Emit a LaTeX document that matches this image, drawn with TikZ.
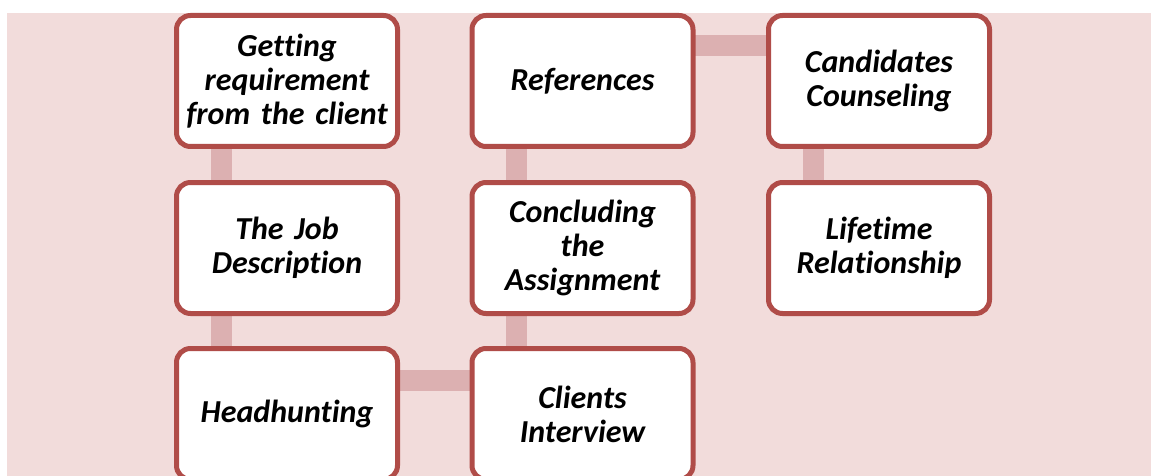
\documentclass[tikz,border=0pt]{standalone}
\usepackage{fontspec}
\setmainfont{Carlito}[Ligatures={NoCommon},WordSpace=0.8]
\usetikzlibrary{backgrounds}
\definecolor{bgpink}{RGB}{242,220,219}
\definecolor{boxred}{RGB}{176,76,72}
\definecolor{connpink}{RGB}{220,176,177}
\tikzset{
  stepbox/.style={draw=boxred, line width=5pt, fill=white, rounded corners=14pt,
    minimum width=221pt, minimum height=131pt, text width=218pt, align=center,
    font=\fontsize{32}{34}\selectfont\bfseries\itshape, inner sep=0pt},
  conn/.style={draw=connpink, line width=21pt}
}
\begin{document}
\begin{tikzpicture}[x=1pt,y=-1pt]
\useasboundingbox (0,0) rectangle (1151,476);
\clip (0,0) rectangle (1151,476);
% nodes
\node[stepbox] (g) at (287,81) {Getting\\requirement\\from the client};
\node[stepbox] (jd) at (287,248) {The Job\\Description};
\node[stepbox] (hh) at (287,414) {Headhunting};
\node[stepbox] (ci) at (582.5,414) {Clients\\Interview};
\node[stepbox] (ca) at (582.5,248) {Concluding\\the\\Assignment};
\node[stepbox] (rf) at (582.5,81) {References};
\node[stepbox] (cc) at (879,81) {Candidates\\Counseling};
\node[stepbox] (lr) at (879,248) {Lifetime\\Relationship};
% background and connectors
\begin{scope}[on background layer]
\fill[bgpink] (7,13) rectangle (1151,476);
\draw[conn] ([xshift=-66pt]g.center) -- ([xshift=-66pt]jd.center);
\draw[conn] ([xshift=-66pt]jd.center) -- ([xshift=-66pt]hh.center);
\draw[conn] ([yshift=34pt]hh.center) -- ([yshift=34pt]ci.center);
\draw[conn] ([xshift=-66pt]ci.center) -- ([xshift=-66pt]ca.center);
\draw[conn] ([xshift=-66pt]ca.center) -- ([xshift=-66pt]rf.center);
\draw[conn] ([yshift=35pt]rf.center) -- ([yshift=35pt]cc.center);
\draw[conn] ([xshift=-66pt]cc.center) -- ([xshift=-66pt]lr.center);
\end{scope}
\end{tikzpicture}
\end{document}
